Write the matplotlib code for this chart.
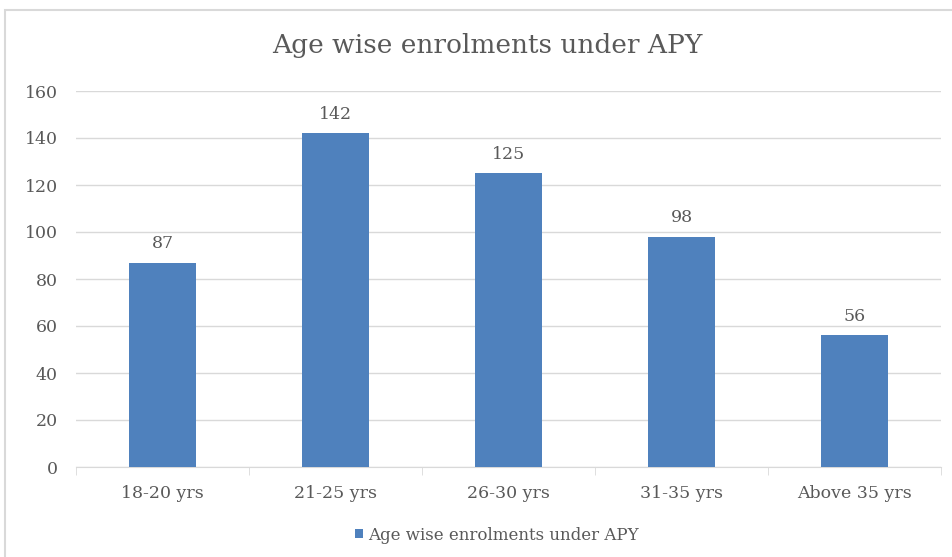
import matplotlib.pyplot as plt
from matplotlib.patches import Rectangle

categories = ['18-20 yrs', '21-25 yrs', '26-30 yrs', '31-35 yrs', 'Above 35 yrs']
enrolments = [87, 142, 125, 98, 56]
series_name = 'Age wise enrolments under APY'
y_ticks = [0, 20, 40, 60, 80, 100, 120, 140, 160]

bar_color = '#4F81BD'
text_color = '#595959'
grid_color = '#D9D9D9'

plt.rcParams['font.family'] = ['DejaVu Serif']

fig = plt.figure(figsize=(9.52, 5.57), dpi=100)
W, H = 952, 557

# chart frame (cropped on right and bottom)
fig.patches.append(Rectangle((5 / W, -0.1), 1.2, 1.1 - 10 / H, transform=fig.transFigure,
                             fill=False, edgecolor='#D9D9D9', linewidth=1.5))

ax = fig.add_axes([76 / W, 1 - 467 / H, (941 - 76) / W, (467 - 91) / H])
x = range(len(categories))
bars = ax.bar(x, enrolments, width=0.39, color=bar_color, zorder=3, label=series_name)

ax.set_xlim(-0.5, len(categories) - 0.5)
ax.set_ylim(0, 160)
ax.set_yticks(y_ticks)
ax.grid(axis='y', color=grid_color, linewidth=1, zorder=0)
for s in ['top', 'right', 'left']:
    ax.spines[s].set_visible(False)
ax.spines['bottom'].set_color(grid_color)
ax.set_xticks([i - 0.5 for i in range(len(categories) + 1)], minor=True)
ax.set_xticks(list(x))
ax.set_xticklabels(categories)
ax.tick_params(axis='x', which='major', length=0, pad=13, labelsize=12.5, labelcolor=text_color)
ax.tick_params(axis='x', which='minor', length=6, color=grid_color)
ax.tick_params(axis='y', length=0, pad=13, labelsize=12.5, labelcolor=text_color)

for b, v in zip(bars, enrolments):
    ax.text(b.get_x() + b.get_width() / 2, v + 4.5, str(v), ha='center', va='bottom',
            fontsize=12.5, color=text_color)

fig.text(487 / W, 1 - 46 / H, 'Age wise enrolments under APY', ha='center', va='center',
         fontsize=19, color=text_color)

fig.legend(handles=[bars], labels=[series_name], loc='center', bbox_to_anchor=(497 / W, 1 - 535 / H),
           frameon=False, fontsize=12, labelcolor=text_color, handlelength=0.5, handleheight=0.5,
           handletextpad=0.3)

fig.savefig('out.png', dpi=100)
